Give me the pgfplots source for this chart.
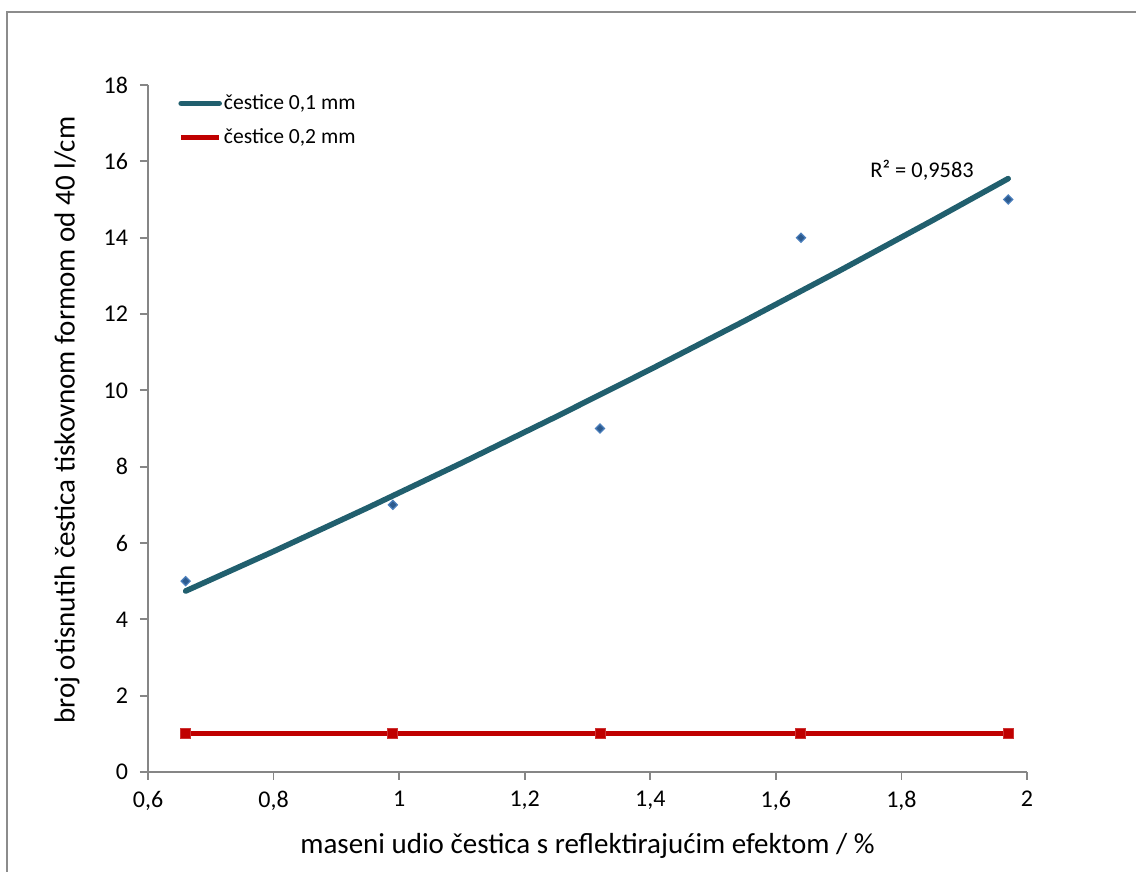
\documentclass[border=0pt]{standalone}
\usepackage{pgfplots}
\pgfplotsset{compat=1.18}
\usepackage{fontspec}
\setmainfont{Carlito}
\definecolor{trend}{HTML}{215F6E}
\definecolor{diam}{HTML}{4A7EBB}
\definecolor{diamedge}{HTML}{2C5A8E}
\definecolor{redser}{HTML}{C00000}
\definecolor{axgray}{HTML}{868686}
\definecolor{framegray}{HTML}{8C8C8C}
\begin{document}
\begin{tikzpicture}
\useasboundingbox (-74pt,-50pt) rectangle (494pt,386pt);
\draw[framegray, line width=0.9pt] (-70.5pt,-52pt) -- (-70.5pt,380pt) -- (496pt,380pt);
\begin{axis}[
  at={(0pt,0pt)}, anchor=origin,
  scale only axis,
  width=439.5pt, height=343.5pt,
  xmin=0.6, xmax=2, ymin=0, ymax=18,
  xtick={0.6,0.8,...,2.01}, ytick={0,2,...,18},
  axis x line*=bottom, axis y line*=left,
  axis line style={axgray, line width=0.9pt, -},
  tick style={axgray, line width=0.9pt},
  tick align=outside, major tick length=4pt,
  /pgf/number format/.cd, use comma, 1000 sep={}, assume math mode=true,
  /pgfplots/.cd,
  ticklabel style={font=\fontsize{12}{14}\selectfont},
  xticklabel style={yshift=-2pt},
  yticklabel style={xshift=-2.5pt},
  xlabel={maseni udio čestica s reflektirajućim efektom / \%},
  ylabel={broj otisnutih čestica tiskovnom formom od 40 l/cm},
  label style={font=\fontsize{14.5}{17}\selectfont},
  xlabel style={at={(rel axis cs:0.5,0)}, anchor=center, yshift=-37pt},
  ylabel style={at={(rel axis cs:0,0.512)}, anchor=center, yshift=40.5pt},
  legend style={draw=none, fill=none, at={(rel axis cs:0,1)}, anchor=north west,
    xshift=15pt, yshift=-3.5pt, inner sep=0pt, row sep=6pt,
    font=\fontsize{10.8}{12}\selectfont, nodes={inner sep=1pt}},
  legend cell align=left,
  legend image code/.code={\draw[#1, mark=none] (0pt,0pt) -- (19pt,0pt);},
  clip=false,
]
% polynomial trend (order 2)
\addplot[trend, line width=2.8pt, line cap=round, mark=none] coordinates {
  (0.66,4.742) (0.8,5.780) (0.95,6.924) (1.1,8.100) (1.25,9.308)
  (1.4,10.547) (1.55,11.818) (1.7,13.121) (1.85,14.456) (1.97,15.547)
};
\addlegendentry{čestice 0,1 mm}
\addplot[redser, line width=2.5pt, mark=square*, mark size=2.5pt,
  mark options={fill=redser, draw=redser!80!white, line width=0.5pt}] coordinates {
  (0.66,1) (0.99,1) (1.32,1) (1.64,1) (1.97,1)
};
\addlegendentry{čestice 0,2 mm}
\addplot[only marks, mark=square*, mark size=1.6pt,
  mark options={rotate=45, fill=diamedge, draw=diam, line width=0.6pt}, forget plot] coordinates {
  (0.66,5) (0.99,7) (1.32,9) (1.64,14) (1.97,15)
};
\node[anchor=west, font=\fontsize{11.2}{13}\selectfont, inner sep=0pt] at (axis cs:1.75,15.77) {R² = 0,9583};
\end{axis}
\end{tikzpicture}
\end{document}
